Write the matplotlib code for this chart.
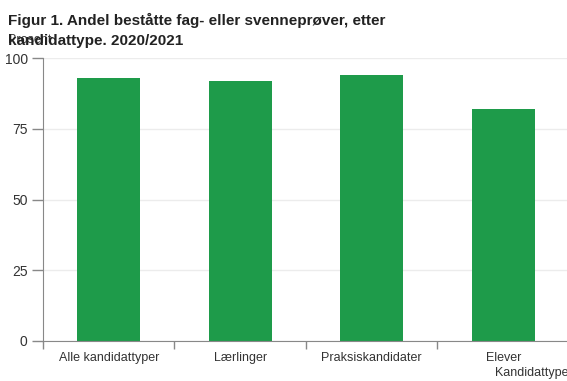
import matplotlib
matplotlib.use("Agg")
import matplotlib.pyplot as plt
import numpy as np

TITLE = "Figur 1. Andel beståtte fag- eller svenneprøver, etter\nkandidattype. 2020/2021"
categories = ["Alle kandidattyper", "Lærlinger", "Praksiskandidater", "Elever"]
values = [93, 92, 94, 82]
y_ticks = [0, 25, 50, 75, 100]

BAR_COLOR = "#1e9b4a"
AXIS_COLOR = "#888888"
TEXT_COLOR = "#333333"

plt.rcParams["font.family"] = ["Liberation Sans", "DejaVu Sans"]

fig = plt.figure(figsize=(5.67, 3.81), dpi=100)
ax = fig.add_axes([43 / 567, 40 / 381, 526 / 567, 283 / 381])

x = np.arange(len(categories))
ax.bar(x, values, width=0.48, color=BAR_COLOR, zorder=2)

# Axis limits and ticks
ax.set_xlim(-0.5, len(categories) - 0.5)
ax.set_ylim(0, 100)
ax.set_yticks(y_ticks)
ax.set_yticklabels([str(t) for t in y_ticks], fontsize=10, color=TEXT_COLOR)
ax.set_xticks(x)
ax.set_xticklabels(categories, fontsize=9, color=TEXT_COLOR)
ax.tick_params(axis="x", length=0, pad=8)
ax.set_xticks(np.arange(-0.5, len(categories) + 0.5, 1), minor=True)
ax.tick_params(axis="x", which="minor", length=6, color=AXIS_COLOR, width=1)
ax.tick_params(axis="y", length=8, color=AXIS_COLOR, width=1, pad=3)

ax.grid(axis="y", color="#ececec", linewidth=1, zorder=0)
for side in ["top", "right"]:
    ax.spines[side].set_visible(False)
ax.spines["left"].set_color(AXIS_COLOR)
ax.spines["bottom"].set_color(AXIS_COLOR)

# Axis labels (the y label sits on top of the title's second line, as in the source)
ax.set_xlabel("Kandidattype", fontsize=9, color=TEXT_COLOR, loc="right", labelpad=2)
fig.text(8 / 567, 1 - 40 / 381, "Prosent", fontsize=9, color=TEXT_COLOR, va="center")

# Title
fig.text(8 / 567, 1 - 13 / 381, TITLE, fontsize=11, fontweight="bold",
         color="#222222", va="top", linespacing=1.55)

fig.savefig("out.png", dpi=100)
